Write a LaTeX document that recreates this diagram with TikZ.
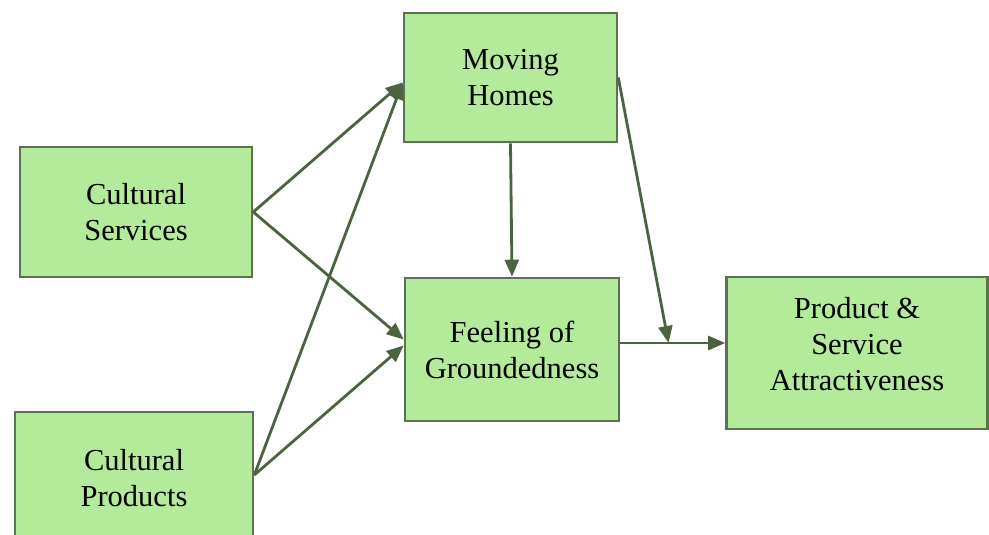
\documentclass[tikz,border=0pt]{standalone}
\usepackage{fontspec}
\setmainfont{Liberation Serif}
\usetikzlibrary{arrows.meta,calc}
\definecolor{boxfill}{HTML}{B3EB9B}
\definecolor{boxline}{HTML}{5C7352}
\definecolor{arrcol}{HTML}{4B6341}
\begin{document}
\begin{tikzpicture}[x=1pt,y=-1pt,
  boxtext/.style={align=center,inner sep=0pt,font=\fontsize{30.5}{36}\selectfont},
  box/.style={draw=boxline,fill=boxfill,line width=2.6pt,boxtext},
  arr/.style={draw=arrcol,line width=2.8pt,-{Triangle[length=17pt,width=14pt]}}]
\useasboundingbox (0,0) rectangle (989,535);
\clip (0,0) rectangle (989,535);
\node[box,minimum width=232pt,minimum height=130pt] (cs) at (136,212) {Cultural\\Services};
\node[box,minimum width=238pt,minimum height=132pt] (cp) at (134,478) {Cultural\\Products};
\node[box,minimum width=213pt,minimum height=129pt] (mh) at (510.5,77.5) {Moving\\Homes};
\node[box,minimum width=214pt,minimum height=143pt] (fog) at (512,349.5) {Feeling of\\Groundedness};
\node[box,minimum width=261pt,minimum height=152pt] (psa) at (857,353) {};
\node[boxtext] (psat) at ([yshift=9pt]psa.center) {Product \&\\Service\\Attractiveness};
\draw[arr] (cs.east) -- ([yshift=-5pt]mh.west);
\draw[arr] (cs.east) -- ([yshift=10pt]fog.west);
\draw[arr] ([yshift=3pt]cp.east) -- ([yshift=-5pt]mh.west);
\draw[arr] ([yshift=3pt]cp.east) -- ([yshift=4pt]fog.west);
\draw[arr] (mh.south) -- (fog.north);
\coordinate (fo) at ([yshift=6.5pt]fog.east);
\draw[arr] (fo) -- (fo -| psa.west);
\coordinate (jn) at ($(fo)!0.46!(fo -| psa.west)$);
\draw[arr] (mh.east) -- (jn);
\end{tikzpicture}
\end{document}
